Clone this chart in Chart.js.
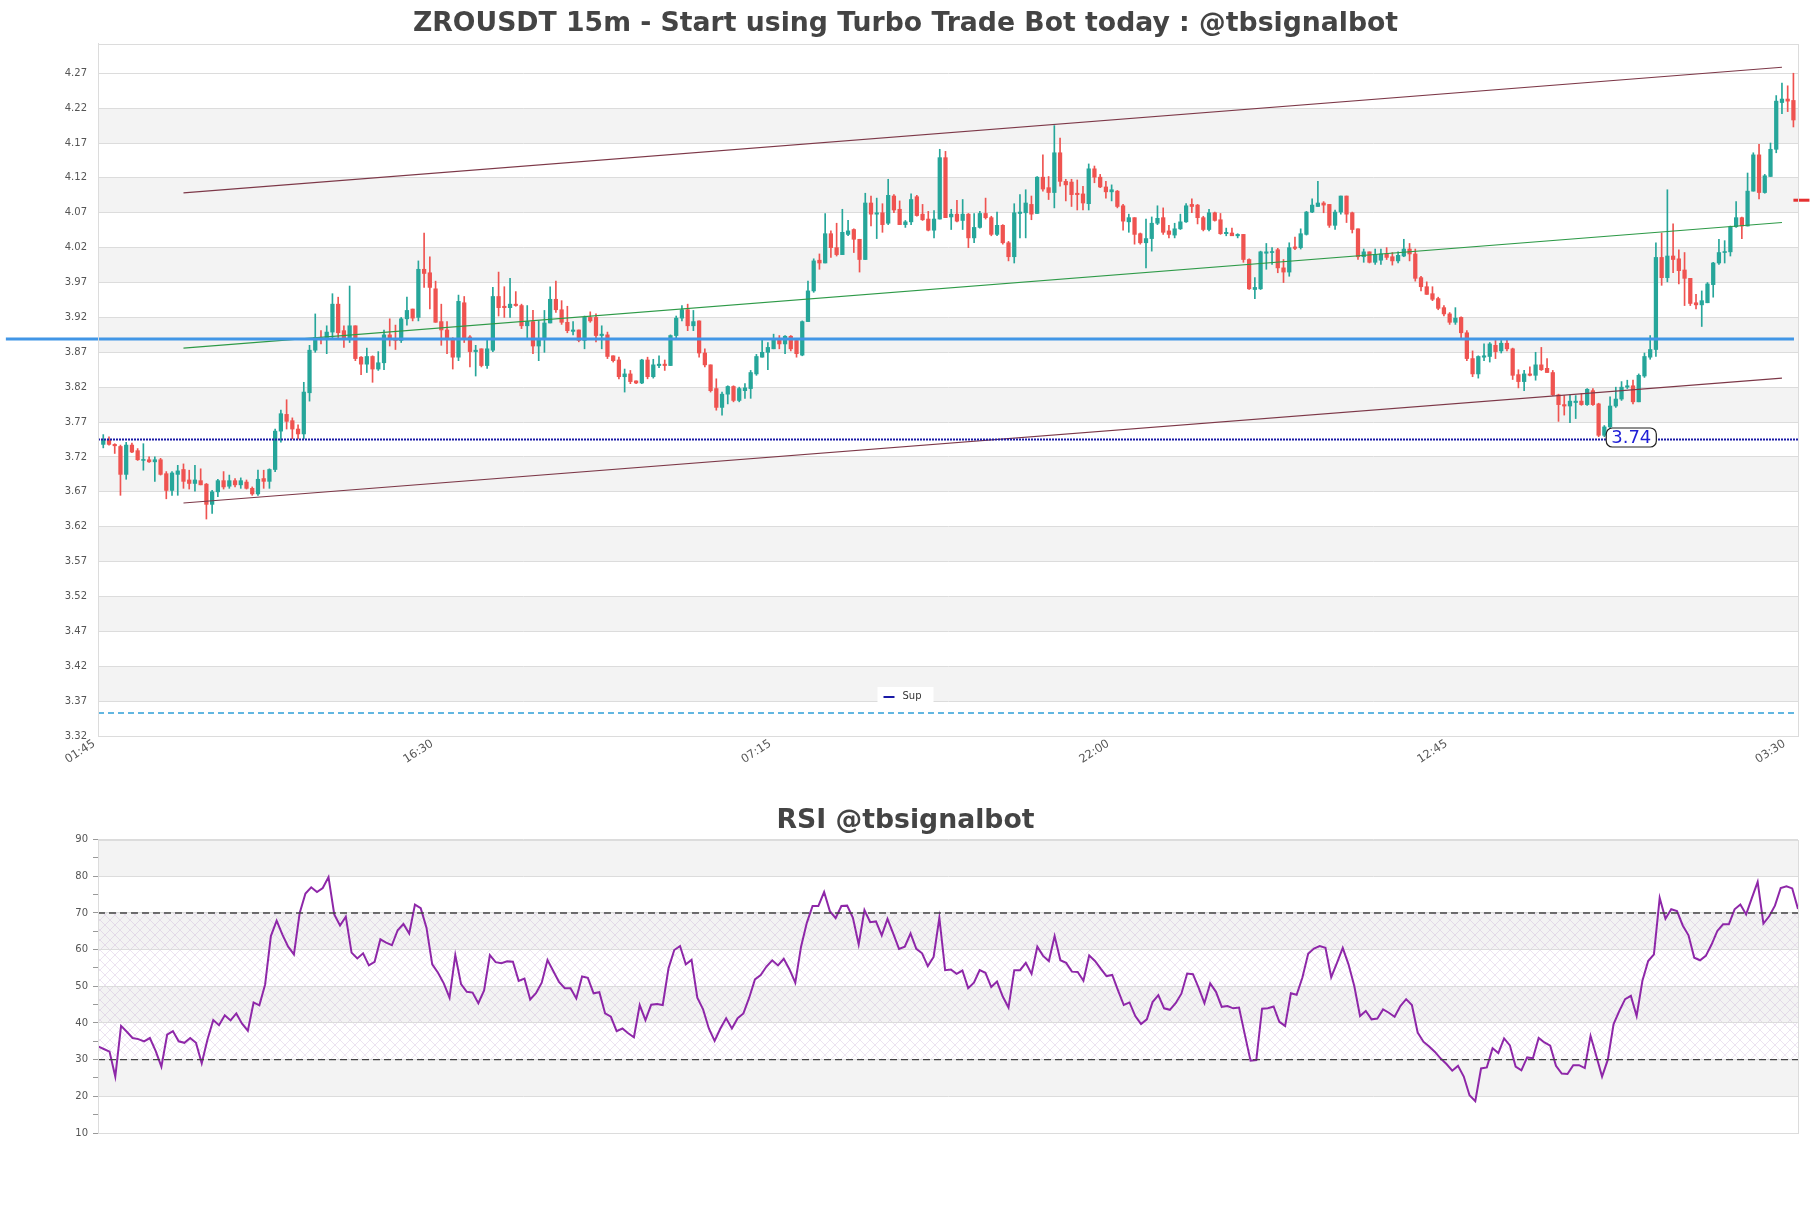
<!DOCTYPE html>
<html><head><meta charset="utf-8">
<script src="https://cdn.jsdelivr.net/npm/chart.js@4.4.1/dist/chart.umd.min.js"></script>
<style>
html,body{margin:0;padding:0;background:#fff;}
#wrap{position:relative;width:1811px;height:1208px;overflow:hidden;background:#fff;}
#c1{position:absolute;left:0;top:0;}
#c2{position:absolute;left:0;top:780px;}
</style></head><body>
<div id="wrap">
<canvas id="c1" width="1811" height="780"></canvas>
<canvas id="c2" width="1811" height="428"></canvas>
</div>
<script>
// ---------------- DATA ----------------
const timeTickIdx = [0, 59, 118, 177, 236, 295];
const timeTickLabels = ['01:45', '16:30', '07:15', '22:00', '12:45', '03:30'];
const priceTicks = [3.32,3.37,3.42,3.47,3.52,3.57,3.62,3.67,3.72,3.77,3.82,3.87,3.92,3.97,4.02,4.07,4.12,4.17,4.22,4.27];
const rsiTicks = [10,15,20,25,30,35,40,45,50,55,60,65,70,75,80,85,90];

const open = [3.738,3.744,3.738,3.735,3.695,3.737,3.729,3.715,3.716,3.713,
3.716,3.696,3.672,3.695,3.702,3.687,3.682,3.686,3.681,3.652,
3.670,3.686,3.678,3.686,3.680,3.684,3.675,3.667,3.689,3.685,
3.702,3.757,3.781,3.772,3.760,3.753,3.812,3.873,3.891,3.888,
3.899,3.939,3.901,3.888,3.908,3.863,3.853,3.864,3.846,3.855,
3.895,3.890,3.887,3.918,3.932,3.920,3.989,3.984,3.961,3.914,
3.902,3.889,3.863,3.941,3.892,3.871,3.875,3.851,3.873,3.950,
3.936,3.934,3.939,3.937,3.908,3.914,3.879,3.889,3.912,3.946,
3.931,3.913,3.900,3.902,3.887,3.920,3.920,3.894,3.895,3.865,
3.859,3.835,3.839,3.829,3.826,3.859,3.835,3.851,3.853,3.851,
3.894,3.919,3.931,3.908,3.915,3.869,3.852,3.818,3.791,3.810,
3.821,3.801,3.815,3.818,3.839,3.863,3.870,3.875,3.889,3.882,
3.893,3.887,3.866,3.914,3.958,4.002,3.998,4.040,4.020,4.010,
4.039,4.046,4.032,4.003,4.084,4.068,4.070,4.055,4.094,4.075,
4.053,4.057,4.093,4.068,4.061,4.045,4.061,4.149,4.064,4.068,
4.059,4.068,4.034,4.049,4.069,4.063,4.039,4.052,4.027,4.007,
4.069,4.070,4.082,4.069,4.121,4.106,4.099,4.156,4.115,4.114,
4.098,4.097,4.083,4.133,4.121,4.107,4.100,4.101,4.080,4.057,
4.063,4.040,4.027,4.033,4.055,4.063,4.044,4.038,4.047,4.057,
4.082,4.081,4.063,4.046,4.070,4.060,4.040,4.041,4.037,4.039,
4.003,3.960,3.961,4.012,4.013,4.017,3.991,3.985,4.021,4.020,
4.039,4.071,4.079,4.084,4.082,4.052,4.071,4.094,4.070,4.047,
4.007,4.014,3.999,4.002,4.011,4.007,4.001,4.008,4.018,4.011,
3.977,3.964,3.954,3.947,3.934,3.925,3.913,3.920,3.898,3.861,
3.839,3.863,3.864,3.880,3.872,3.883,3.875,3.838,3.828,3.839,
3.837,3.852,3.847,3.841,3.809,3.795,3.793,3.798,3.800,3.795,
3.815,3.796,3.751,3.763,3.793,3.803,3.820,3.822,3.799,3.836,
3.863,3.874,4.006,3.977,4.008,4.004,3.988,3.976,3.941,3.938,
3.941,3.967,3.998,4.013,4.014,4.050,4.063,4.051,4.101,4.153,
4.099,4.122,4.161,4.228,4.233,4.231];

const high = [3.752,3.749,3.739,3.737,3.741,3.740,3.732,3.739,3.720,3.720,
3.718,3.699,3.699,3.708,3.710,3.701,3.708,3.703,3.682,3.672,
3.688,3.699,3.694,3.689,3.690,3.687,3.677,3.701,3.701,3.703,
3.760,3.787,3.802,3.776,3.766,3.827,3.880,3.925,3.901,3.908,
3.954,3.949,3.908,3.965,3.908,3.864,3.876,3.865,3.871,3.902,
3.918,3.909,3.920,3.949,3.932,4.001,4.041,4.007,3.972,3.939,
3.914,3.891,3.952,3.950,3.894,3.880,3.875,3.887,3.963,3.985,
3.964,3.976,3.957,3.939,3.937,3.930,3.915,3.930,3.964,3.972,
3.944,3.936,3.914,3.902,3.922,3.928,3.925,3.908,3.899,3.865,
3.863,3.846,3.844,3.829,3.860,3.863,3.860,3.865,3.859,3.895,
3.922,3.937,3.939,3.930,3.915,3.875,3.852,3.832,3.813,3.822,
3.822,3.820,3.825,3.844,3.867,3.888,3.884,3.896,3.894,3.894,
3.894,3.889,3.915,3.972,4.004,4.011,4.069,4.044,4.055,4.075,
4.059,4.047,4.032,4.098,4.094,4.091,4.083,4.118,4.096,4.087,
4.059,4.097,4.095,4.082,4.072,4.073,4.161,4.158,4.075,4.088,
4.089,4.069,4.069,4.072,4.091,4.065,4.071,4.053,4.029,4.083,
4.096,4.103,4.094,4.122,4.153,4.122,4.195,4.177,4.118,4.118,
4.117,4.108,4.140,4.137,4.125,4.115,4.110,4.102,4.082,4.068,
4.063,4.041,4.061,4.064,4.080,4.077,4.052,4.055,4.068,4.083,
4.090,4.082,4.065,4.075,4.071,4.069,4.048,4.048,4.040,4.039,
4.004,3.977,4.015,4.026,4.020,4.019,4.003,4.027,4.035,4.047,
4.072,4.090,4.115,4.086,4.082,4.074,4.094,4.094,4.071,4.047,
4.018,4.014,4.018,4.018,4.020,4.013,4.014,4.032,4.026,4.018,
3.979,3.971,3.964,3.949,3.937,3.927,3.934,3.921,3.901,3.872,
3.865,3.882,3.884,3.887,3.887,3.887,3.876,3.845,3.844,3.849,
3.870,3.877,3.861,3.844,3.810,3.808,3.809,3.808,3.811,3.818,
3.818,3.797,3.765,3.806,3.820,3.828,3.830,3.830,3.839,3.869,
3.894,4.027,4.041,4.103,4.054,4.017,4.013,3.976,3.953,3.958,
3.970,3.999,4.032,4.030,4.051,4.086,4.064,4.127,4.156,4.168,
4.125,4.170,4.238,4.256,4.252,4.270];

const low = [3.733,3.737,3.725,3.665,3.688,3.726,3.715,3.701,3.712,3.685,
3.694,3.660,3.665,3.665,3.675,3.674,3.671,3.680,3.631,3.639,
3.663,3.674,3.675,3.677,3.675,3.674,3.665,3.665,3.675,3.675,
3.699,3.741,3.760,3.746,3.746,3.746,3.800,3.870,3.882,3.868,
3.891,3.891,3.877,3.884,3.858,3.838,3.841,3.827,3.844,3.845,
3.879,3.874,3.884,3.909,3.915,3.915,3.963,3.932,3.913,3.880,
3.868,3.846,3.858,3.884,3.849,3.836,3.849,3.847,3.871,3.922,
3.920,3.920,3.936,3.904,3.891,3.868,3.858,3.870,3.912,3.927,
3.910,3.898,3.895,3.885,3.875,3.913,3.885,3.875,3.861,3.856,
3.832,3.813,3.825,3.825,3.825,3.832,3.833,3.848,3.844,3.851,
3.889,3.915,3.901,3.901,3.863,3.849,3.813,3.787,3.780,3.796,
3.799,3.799,3.804,3.804,3.837,3.863,3.845,3.875,3.875,3.868,
3.872,3.863,3.865,3.914,3.956,3.989,3.998,4.006,4.008,4.010,
4.037,4.013,3.985,4.003,4.051,4.033,4.042,4.053,4.070,4.053,
4.049,4.053,4.065,4.059,4.044,4.034,4.061,4.063,4.046,4.057,
4.046,4.020,4.027,4.048,4.061,4.037,4.037,4.025,4.001,3.998,
4.034,4.034,4.060,4.069,4.101,4.089,4.077,4.108,4.087,4.079,
4.074,4.074,4.074,4.113,4.106,4.091,4.087,4.077,4.045,4.042,
4.025,4.025,3.991,4.015,4.053,4.039,4.034,4.034,4.046,4.056,
4.070,4.054,4.044,4.044,4.058,4.039,4.037,4.037,4.034,3.999,
3.960,3.947,3.960,3.989,3.996,3.984,3.970,3.979,4.017,4.018,
4.038,4.070,4.079,4.070,4.049,4.046,4.068,4.056,4.041,4.003,
3.999,3.998,3.996,3.996,4.003,3.995,3.998,4.007,4.001,3.972,
3.958,3.953,3.944,3.931,3.922,3.910,3.910,3.889,3.858,3.835,
3.833,3.858,3.856,3.861,3.869,3.872,3.831,3.819,3.815,3.836,
3.830,3.844,3.841,3.808,3.771,3.780,3.769,3.775,3.794,3.794,
3.794,3.749,3.749,3.761,3.791,3.801,3.818,3.796,3.799,3.834,
3.860,3.864,3.966,3.971,3.984,3.968,3.937,3.937,3.932,3.907,
3.941,3.949,3.996,3.998,4.008,4.049,4.033,4.051,4.101,4.090,
4.098,4.122,4.156,4.212,4.215,4.193];

const close = [3.744,3.738,3.736,3.695,3.737,3.727,3.716,3.716,3.713,3.716,
3.695,3.672,3.697,3.700,3.685,3.682,3.687,3.680,3.652,3.670,
3.686,3.677,3.686,3.680,3.686,3.675,3.667,3.688,3.685,3.702,
3.757,3.782,3.771,3.760,3.753,3.813,3.873,3.891,3.888,3.899,
3.939,3.898,3.888,3.908,3.861,3.853,3.864,3.846,3.855,3.895,
3.889,3.887,3.918,3.930,3.919,3.989,3.983,3.963,3.913,3.902,
3.889,3.863,3.943,3.891,3.871,3.873,3.851,3.875,3.950,3.934,
3.934,3.939,3.937,3.908,3.914,3.879,3.889,3.912,3.946,3.931,
3.913,3.901,3.902,3.887,3.920,3.915,3.894,3.896,3.864,3.858,
3.835,3.839,3.828,3.826,3.859,3.835,3.852,3.853,3.851,3.894,
3.919,3.931,3.908,3.914,3.869,3.852,3.815,3.791,3.810,3.821,
3.801,3.818,3.819,3.841,3.864,3.870,3.877,3.888,3.882,3.893,
3.875,3.868,3.914,3.958,4.001,3.998,4.040,4.020,4.010,4.042,
4.044,4.032,4.003,4.084,4.068,4.070,4.053,4.095,4.074,4.053,
4.057,4.089,4.066,4.060,4.045,4.061,4.149,4.063,4.068,4.058,
4.068,4.034,4.049,4.069,4.063,4.039,4.052,4.027,4.007,4.070,
4.071,4.084,4.068,4.121,4.104,4.099,4.156,4.115,4.110,4.096,
4.096,4.084,4.133,4.121,4.107,4.100,4.103,4.079,4.058,4.063,
4.039,4.027,4.033,4.055,4.062,4.042,4.039,4.047,4.057,4.080,
4.079,4.063,4.046,4.070,4.059,4.040,4.042,4.037,4.039,4.003,
3.961,3.963,4.014,4.014,4.014,3.991,3.985,4.020,4.019,4.040,
4.071,4.081,4.084,4.081,4.052,4.071,4.094,4.068,4.046,4.007,
4.014,3.999,4.010,4.011,4.006,4.001,4.009,4.018,4.011,3.976,
3.964,3.953,3.946,3.933,3.925,3.913,3.919,3.898,3.861,3.839,
3.864,3.865,3.882,3.871,3.883,3.875,3.837,3.828,3.839,3.837,
3.852,3.845,3.841,3.809,3.795,3.793,3.800,3.800,3.795,3.817,
3.795,3.751,3.763,3.793,3.803,3.820,3.822,3.799,3.837,3.864,
3.874,4.006,3.977,4.008,4.003,3.987,3.976,3.940,3.938,3.944,
3.968,3.998,4.013,4.014,4.050,4.063,4.051,4.101,4.153,4.099,
4.123,4.161,4.230,4.233,4.230,4.203];

const rsi = [33.6,32.9,32.2,25.4,39.2,37.6,35.9,35.6,35.0,35.9,
32.4,28.1,36.8,37.8,35.0,34.6,35.9,34.6,29.0,35.5,
40.8,39.4,42.1,40.7,42.6,39.8,37.9,45.6,44.8,50.5,
63.7,67.9,64.1,60.8,58.7,70.0,75.3,77.0,75.7,76.8,
79.8,69.6,66.6,69.0,59.2,57.6,59.0,55.7,56.7,62.8,
61.9,61.2,65.3,67.0,64.4,72.3,71.3,66.0,56.0,53.7,
50.8,46.9,58.5,50.6,48.5,48.3,45.4,48.9,58.5,56.6,
56.3,56.8,56.7,51.5,52.1,46.4,48.1,51.0,57.2,54.2,
51.2,49.5,49.5,46.7,52.7,52.3,48.1,48.4,42.6,41.7,
37.8,38.5,37.2,36.1,44.9,40.8,45.0,45.2,44.9,54.9,
59.9,61.0,56.0,57.2,46.9,43.7,38.5,35.1,38.5,41.3,
38.5,41.3,42.6,46.9,51.9,53.1,55.4,57.1,55.7,57.5,
54.6,51.0,60.8,67.3,71.9,71.9,75.7,70.5,68.6,71.9,
72.0,68.7,61.4,70.8,67.5,67.7,63.9,68.4,64.4,60.2,
60.8,64.4,60.2,59.0,55.5,58.0,68.7,54.4,54.6,53.4,
54.3,49.5,51.0,54.4,53.7,49.8,51.3,47.2,44.2,54.4,
54.4,56.4,53.4,60.8,58.3,56.9,63.7,57.1,56.4,54.0,
53.9,51.5,58.4,56.9,54.8,52.8,53.1,48.9,44.9,45.6,
41.9,39.7,41.0,45.7,47.6,44.0,43.6,45.4,48.0,53.5,
53.3,49.6,45.4,50.8,48.5,44.4,44.6,44.0,44.2,36.9,
29.7,29.9,43.9,44.0,44.5,40.3,39.2,48.1,47.7,52.4,
58.9,60.3,61.0,60.5,52.5,56.4,60.5,56.0,50.1,41.9,
43.3,41.0,41.2,43.7,42.8,41.7,44.6,46.5,44.9,37.4,
34.9,33.6,32.1,30.3,28.8,27.0,28.3,25.4,20.3,18.7,
27.6,27.9,33.1,31.8,35.8,33.9,28.1,27.1,30.6,30.4,
35.9,34.7,33.8,28.3,26.2,26.1,28.5,28.5,27.7,36.5,
31.0,25.4,30.0,39.7,43.3,46.5,47.4,41.9,51.5,56.9,
58.7,74.1,68.4,71.0,70.5,66.6,63.9,57.8,57.1,58.3,
61.4,65.1,66.9,66.9,71.0,72.3,69.6,74.1,78.5,67.1,
69.1,72.0,76.8,77.3,76.7,71.1];

// channel lines: [startIndex, endIndex], [startPrice, endPrice]
const channelIdx = [14, 293];
const channelUpper = [4.0986, 4.2786];
const channelMid = [3.876, 4.056];
const channelLower = [3.654, 3.833];
// horizontal levels
const supLevel = 3.745;          // "Sup"
const supLabelText = '3.74';
const supLabelIdx = 266.7;
const pivotLevel = 3.889;        // thick blue
const pivotSpan = [-17, 295.1];
const lowDashLevel = 3.353;      // dashed cyan
const markLevel = 4.088;         // red mark right of chart
const markSpan = [295, 297.8];
const rsiLevels = [70, 30];

// ---------------- STYLE ----------------
Chart.defaults.font.family = "'DejaVu Sans', sans-serif";
Chart.defaults.color = '#555';
Chart.defaults.animation = false;
const UP = '#26a69a', DOWN = '#ef5350';
const xMin = -0.92, xMax = 295.8;
const N = close.length;
const idx = close.map((_, i) => i);
const candleColors = idx.map(i => close[i] >= open[i] ? UP : DOWN);

function bandsPlugin(id) {
  return {
    id: id,
    beforeDraw(chart, args, opts) {
      const {ctx, chartArea: a} = chart;
      const ys = chart.scales.y;
      const t = opts.major;
      ctx.save();
      ctx.fillStyle = '#fff';
      ctx.fillRect(a.left, a.top, a.width, a.height);
      ctx.fillStyle = '#f3f3f3';
      for (let k = 0; k < t.length - 1; k++) {
        if (k % 2 === 1) {
          const y0 = ys.getPixelForValue(t[k]), y1 = ys.getPixelForValue(t[k + 1]);
          ctx.fillRect(a.left, y1, a.width, y0 - y1);
        }
      }
      if (opts.hatch) {
        const pc = document.createElement('canvas');
        pc.width = 10; pc.height = 10;
        const g = pc.getContext('2d');
        g.strokeStyle = 'rgba(175,140,195,0.30)';
        g.lineWidth = 0.8;
        g.beginPath();
        g.moveTo(0, 0); g.lineTo(10, 10);
        g.moveTo(10, 0); g.lineTo(0, 10);
        g.stroke();
        const pat = ctx.createPattern(pc, 'repeat');
        const yTop = ys.getPixelForValue(opts.hatch[0]), yBot = ys.getPixelForValue(opts.hatch[1]);
        ctx.fillStyle = pat;
        ctx.fillRect(a.left, yTop, a.width, yBot - yTop);
      }
      ctx.restore();
    },
    afterDatasetsDraw(chart) {
      const {ctx, chartArea: a} = chart;
      ctx.save();
      ctx.strokeStyle = '#dcdcdc';
      ctx.lineWidth = 1;
      ctx.strokeRect(Math.round(a.left) + 0.5, Math.round(a.top) + 0.5, Math.round(a.width), Math.round(a.height));
      ctx.restore();
    }
  };
}

const overlayPlugin = {
  id: 'overlay',
  afterDraw(chart) {
    const {ctx, chartArea: a} = chart;
    const xs = chart.scales.x, ys = chart.scales.y;
    ctx.save();
    // support price tag
    ctx.font = "18px 'DejaVu Sans'";
    const tw = ctx.measureText(supLabelText).width;
    const cx = xs.getPixelForValue(supLabelIdx), cy = ys.getPixelForValue(supLevel) - 2;
    const w = tw + 10, h = 19, r = 6;
    const x0 = cx - w / 2, y0 = cy - h / 2;
    ctx.beginPath();
    ctx.moveTo(x0 + r, y0);
    ctx.arcTo(x0 + w, y0, x0 + w, y0 + h, r);
    ctx.arcTo(x0 + w, y0 + h, x0, y0 + h, r);
    ctx.arcTo(x0, y0 + h, x0, y0, r);
    ctx.arcTo(x0, y0, x0 + w, y0, r);
    ctx.closePath();
    ctx.fillStyle = '#fff';
    ctx.fill();
    ctx.strokeStyle = '#222';
    ctx.lineWidth = 1.2;
    ctx.stroke();
    ctx.fillStyle = '#1f1fd6';
    ctx.textAlign = 'center';
    ctx.textBaseline = 'middle';
    ctx.fillText(supLabelText, cx, cy + 1);
    // legend
    const lx = chart.width / 2, ly = a.bottom - 40;
    ctx.font = "10px 'DejaVu Sans'";
    ctx.fillStyle = '#fff';
    ctx.fillRect(lx - 28, ly - 9, 56, 18);
    ctx.fillStyle = '#1a1aa6';
    ctx.fillRect(lx - 22, ly, 11, 2);
    ctx.fillStyle = '#333';
    ctx.textAlign = 'left';
    ctx.textBaseline = 'middle';
    ctx.fillText('Sup', lx - 3, ly);
    ctx.restore();
  }
};

function seg(x0, x1, y0, y1) { return [{x: x0, y: y0}, {x: x1, y: y1}]; }

// right spacer axis so the title centres on the full canvas width
const rightSpacer = {position: 'right', display: true, afterFit: s => { s.width = 13; },
  grid: {display: false, drawTicks: false}, ticks: {display: false}, border: {display: false}};

new Chart(document.getElementById('c1'), {
  type: 'bar',
  data: {
    datasets: [
      {type: 'line', label: 'Sup', data: seg(xMin, xMax, supLevel, supLevel), borderColor: '#1a1aa6', borderWidth: 2, borderDash: [2, 1], pointRadius: 0},
      {type: 'line', label: 'pivot', data: seg(pivotSpan[0], pivotSpan[1], pivotLevel, pivotLevel), borderColor: '#4196e6', borderWidth: 3, pointRadius: 0, clip: false},
      {type: 'line', label: 'mark', data: seg(markSpan[0], markSpan[1], markLevel, markLevel), borderColor: '#e53030', borderWidth: 3, pointRadius: 0, clip: false},
      {type: 'line', label: 'low', data: seg(xMin, xMax, lowDashLevel, lowDashLevel), borderColor: '#2f9fd8', borderWidth: 1.3, borderDash: [6, 4], pointRadius: 0},
      {type: 'line', label: 'up', data: seg(channelIdx[0], channelIdx[1], channelUpper[0], channelUpper[1]), borderColor: '#7d3848', borderWidth: 1.2, pointRadius: 0},
      {type: 'line', label: 'mid', data: seg(channelIdx[0], channelIdx[1], channelMid[0], channelMid[1]), borderColor: '#2e9a48', borderWidth: 1.1, pointRadius: 0},
      {type: 'line', label: 'dn', data: seg(channelIdx[0], channelIdx[1], channelLower[0], channelLower[1]), borderColor: '#7d3848', borderWidth: 1.2, pointRadius: 0},
      {label: 'body', data: idx.map(i => ({x: i, y: [open[i], close[i]]})), backgroundColor: candleColors, barThickness: 3.6, minBarLength: 1, grouped: false},
      {label: 'wick', data: idx.map(i => ({x: i, y: [low[i], high[i]]})), backgroundColor: candleColors, barThickness: 1, grouped: false}
    ]
  },
  options: {
    responsive: false,
    devicePixelRatio: 1,
    events: [],
    layout: {padding: {left: 0, right: 0, top: 0, bottom: 0}},
    plugins: {
      legend: {display: false},
      tooltip: {enabled: false},
      title: {display: true, text: 'ZROUSDT 15m - Start using Turbo Trade Bot today : @tbsignalbot', color: '#444', font: {size: 26.7, weight: 'bold'}, padding: {top: 8.5, bottom: 3.4}},
      bandsP: {major: priceTicks}
    },
    scales: {
      x: {
        type: 'linear', min: xMin, max: xMax, offset: false,
        afterBuildTicks: s => { s.ticks = timeTickIdx.map(v => ({value: v})); },
        afterFit: s => { s.height = 44; },
        ticks: {autoSkip: false, minRotation: 33, maxRotation: 33, font: {size: 11.5}, color: '#555', padding: 1, labelOffset: -9,
          callback: (v, i) => timeTickLabels[i]},
        grid: {display: false, drawTicks: false, offset: false},
        border: {color: '#dcdcdc'}
      },
      y: {
        min: 3.32, max: 4.312,
        afterBuildTicks: s => { s.ticks = priceTicks.map(v => ({value: v})); },
        afterFit: s => { s.width = 98; },
        ticks: {font: {size: 10}, color: '#555', padding: 11, callback: v => v.toFixed(2)},
        grid: {color: '#dcdcdc', drawTicks: false},
        border: {color: '#dcdcdc'}
      },
      yR: rightSpacer
    }
  },
  plugins: [bandsPlugin('bandsP'), overlayPlugin]
});

new Chart(document.getElementById('c2'), {
  type: 'line',
  data: {
    datasets: [
      {label: 'ob', data: seg(0, N - 1, rsiLevels[0], rsiLevels[0]), borderColor: '#444', borderWidth: 1.4, borderDash: [7, 4], pointRadius: 0},
      {label: 'os', data: seg(0, N - 1, rsiLevels[1], rsiLevels[1]), borderColor: '#444', borderWidth: 1.4, borderDash: [7, 4], pointRadius: 0},
      {label: 'RSI', data: idx.map(i => ({x: i, y: rsi[i]})), borderColor: '#8e27a8', borderWidth: 2, pointRadius: 0, tension: 0}
    ]
  },
  options: {
    responsive: false,
    devicePixelRatio: 1,
    events: [],
    layout: {padding: {left: 0, right: 0, top: 0, bottom: 75}},
    plugins: {
      legend: {display: false},
      tooltip: {enabled: false},
      title: {display: true, text: 'RSI @tbsignalbot', color: '#444', font: {size: 26.7, weight: 'bold'}, padding: {top: 25.3, bottom: 2.3}},
      bandsR: {major: [10, 20, 30, 40, 50, 60, 70, 80, 90], hatch: [70, 30]}
    },
    scales: {
      x: {type: 'linear', min: 0, max: N - 1, display: false, offset: false},
      y: {
        min: 10, max: 90,
        afterBuildTicks: s => { s.ticks = rsiTicks.map(v => ({value: v})); },
        afterFit: s => { s.width = 98; },
        ticks: {font: {size: 10}, color: '#555', padding: 5, callback: v => (v % 10 === 0 ? String(v) : '')},
        grid: {color: c => (c.tick && c.tick.value % 10 === 0 ? '#dcdcdc' : 'rgba(0,0,0,0)'), tickColor: '#999', tickLength: 5},
        border: {color: '#dcdcdc'}
      },
      yR: rightSpacer
    }
  },
  plugins: [bandsPlugin('bandsR')]
});
</script>
</body></html>
